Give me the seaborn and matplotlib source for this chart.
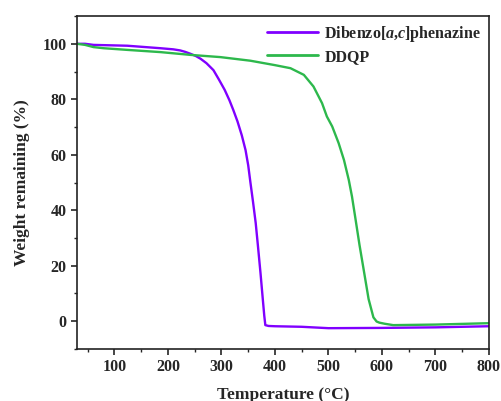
import matplotlib
matplotlib.use("Agg")
import matplotlib.pyplot as plt
import seaborn as sns
import pandas as pd
from matplotlib.ticker import MultipleLocator

# Data
purple_T = [30, 45, 61, 124, 186, 210, 223, 232, 242, 252, 261, 272, 285, 295, 306, 315, 322, 330, 338, 345, 350, 354,
            359, 364, 368, 373, 377, 380, 382, 388, 400, 450, 500, 600, 700, 800]
purple_W = [100, 100, 99.6, 99.3, 98.4, 98.0, 97.6, 97.1, 96.4, 95.6, 94.6, 93.0, 90.5, 87.2, 83.4, 79.6, 76.2, 72.0, 67.0,
            61.7, 56.2, 50.2, 43.0, 35.4, 27.5, 17.3, 8.5, 2.0, -1.4, -1.7, -1.8, -2.0, -2.5, -2.4, -2.2, -1.8]
green_T = [30, 45, 61, 80, 124, 186, 242, 298, 354, 400, 429, 454, 472, 488, 497, 507, 519, 529, 538, 544, 550, 558, 565,
           575, 584, 590, 595, 605, 621, 700, 800]
green_W = [100, 99.6, 98.8, 98.4, 97.8, 97.0, 96.0, 95.2, 93.9, 92.3, 91.2, 88.8, 84.6, 78.6, 73.8, 70.2, 64.2, 58.1, 50.9,
           44.9, 37.5, 27.5, 19.5, 8.0, 1.4, -0.1, -0.5, -0.9, -1.4, -1.2, -0.7]
labels = ["Dibenzo[$a$,$c$]phenazine", "DDQP"]
colors = ["#8000FF", "#2DB84C"]
x_ticks = [100, 200, 300, 400, 500, 600, 700, 800]
y_ticks = [0, 20, 40, 60, 80, 100]

df = pd.concat([
    pd.DataFrame({"T": purple_T, "W": purple_W, "sample": labels[0]}),
    pd.DataFrame({"T": green_T, "W": green_W, "sample": labels[1]}),
], ignore_index=True)

sns.set_style("ticks")
plt.rcParams["font.family"] = ["Liberation Serif", "DejaVu Serif"]
plt.rcParams["font.weight"] = "bold"
plt.rcParams["mathtext.fontset"] = "custom"
plt.rcParams["mathtext.it"] = "Liberation Serif:italic:bold"
plt.rcParams["mathtext.rm"] = "Liberation Serif:bold"

fig = plt.figure(figsize=(5.01, 4.01), dpi=100)
ax = fig.add_axes([0.1537, 0.1297, 0.976 - 0.1537, 0.960 - 0.1297])

sns.lineplot(data=df, x="T", y="W", hue="sample", palette=dict(zip(labels, colors)),
             sort=False, estimator=None, linewidth=1.7, ax=ax)

ax.set_xlim(30, 800)
ax.set_ylim(-10, 110)
ax.set_xticks(x_ticks)
ax.set_yticks(y_ticks)
ax.xaxis.set_minor_locator(MultipleLocator(50))
ax.yaxis.set_minor_locator(MultipleLocator(10))
ax.tick_params(which="major", direction="out", length=4, width=1.2, labelsize=11.5, top=False, right=False)
ax.tick_params(which="minor", direction="out", length=2.5, width=1.0, top=False, right=False)
for lab in ax.get_xticklabels() + ax.get_yticklabels():
    lab.set_fontweight("bold")
for s in ax.spines.values():
    s.set_visible(True)
    s.set_linewidth(1.2)
    s.set_color("#222222")

ax.set_xlabel("Temperature (°C)", fontsize=12.5, fontweight="bold", labelpad=8)
ax.set_ylabel("Weight remaining (%)", fontsize=12.5, fontweight="bold", labelpad=9)

leg = ax.legend(loc="upper right", frameon=False, fontsize=11.5, handlelength=3.2,
                handletextpad=0.4, borderaxespad=0.1, labelspacing=0.3)
for t in leg.get_texts():
    t.set_fontweight("bold")
for l in leg.get_lines():
    l.set_linewidth(2)

fig.savefig("out.png", dpi=100)
